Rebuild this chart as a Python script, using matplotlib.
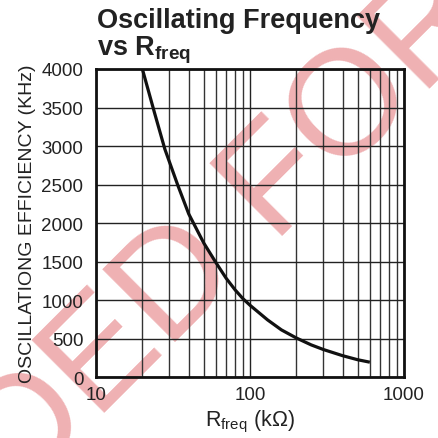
import matplotlib
matplotlib.use("Agg")
import matplotlib.pyplot as plt

plt.rcParams['font.family'] = ['Liberation Sans', 'DejaVu Sans']
plt.rcParams['mathtext.fontset'] = 'custom'
plt.rcParams['mathtext.rm'] = 'Liberation Sans'
plt.rcParams['mathtext.bf'] = 'Liberation Sans:bold'

# values
r_kohm = [20, 24, 28, 34, 40, 50, 60, 70, 80, 90, 100, 130, 160, 200, 250, 300, 400, 500, 600]
f_khz = [4000, 3430, 2960, 2490, 2120, 1745, 1490, 1285, 1135, 1020, 935, 745, 615, 510,
         420, 360, 280, 228, 196]

x_ticks = [10, 100, 1000]
x_tick_labels = ['10', '100', '1000']
y_ticks = [0, 500, 1000, 1500, 2000, 2500, 3000, 3500, 4000]

W, H = 438, 439
fig = plt.figure(figsize=(W / 100, H / 100), dpi=100)
ax = fig.add_axes([96 / W, 1 - 378.3 / H, (404 - 96) / W, (378.3 - 70) / H])
ax.set_facecolor('none')

ax.plot(r_kohm, f_khz, color='#111111', lw=2.3, solid_capstyle='butt',
        solid_joinstyle='round', zorder=3)

ax.set_xscale('log')
ax.set_xlim(10, 1000)
ax.set_ylim(0, 4000)
ax.set_xticks(x_ticks)
ax.set_xticklabels(x_tick_labels)
ax.set_yticks(y_ticks)
ax.grid(True, which='major', color='#222222', lw=1.0)
ax.grid(True, which='minor', axis='x', color='#333333', lw=1.0)
ax.tick_params(which='both', length=0, labelsize=13.5, colors='#222222')
ax.tick_params(axis='y', pad=9)
ax.tick_params(axis='x', pad=6.5)
for s in ax.spines.values():
    s.set_linewidth(2)
    s.set_color('#111111')
    s.set_zorder(4)

ax.set_ylabel('OSCILLATIONG EFFICIENCY (KHz)', fontsize=14, color='#222222', labelpad=4)
ax.set_xlabel(r'R$_\mathrm{freq}$ (kΩ)', fontsize=15.5, color='#222222', labelpad=3)

fig.text(97 / W, 1 - 28 / H, 'Oscillating Frequency', fontsize=19.5, fontweight='bold',
         color='#222222', ha='left', va='baseline')
fig.text(97 / W, 1 - 55 / H, r'vs R$_\mathbf{freq}$', fontsize=19.5, fontweight='bold',
         color='#222222', ha='left', va='baseline')

# watermark behind the plot
wm = dict(fontsize=108, color='#efb1b3', rotation=45, rotation_mode='anchor',
          va='baseline', zorder=-1)
fig.text(244 / W, 1 - 274 / H, 'NOT RECOMMENDED', ha='right', **wm)
fig.text(274 / W, 1 - 244 / H, 'FOR NEW DESIGNS', ha='left', **wm)

fig.savefig('out.png', dpi=100)
